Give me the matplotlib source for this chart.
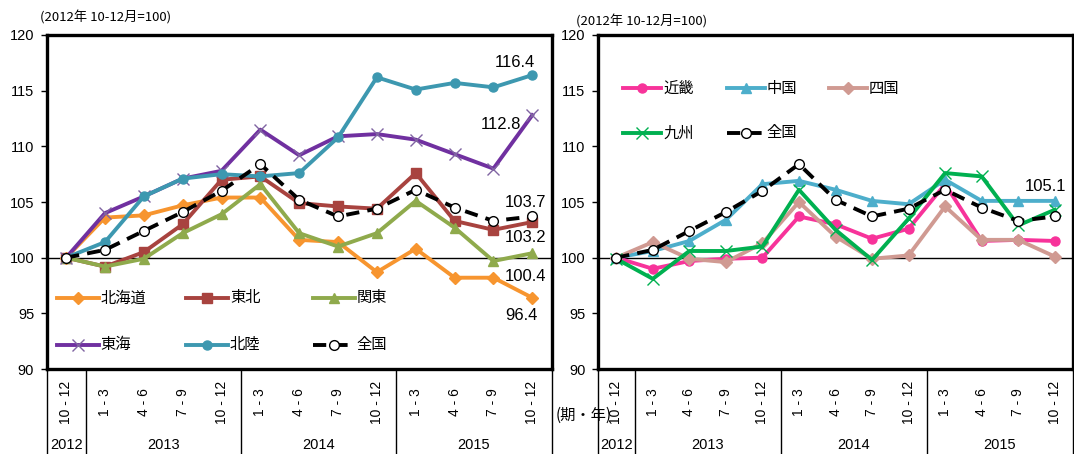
import matplotlib
matplotlib.use("Agg")
import matplotlib.pyplot as plt

NUM_FONT = ["Liberation Sans Narrow", "Liberation Sans", "DejaVu Sans"]
TICK_FONT = ["Liberation Sans", "DejaVu Sans"]
JP_FONT = ["Liberation Sans Narrow", "Noto Sans CJK JP", "DejaVu Sans"]
plt.rcParams["font.family"] = JP_FONT

# quarters, 2012 10-12 .. 2015 10-12
periods = ["10 - 12", "1 - 3", "4 - 6", "7 - 9", "10 - 12",
           "1 - 3", "4 - 6", "7 - 9", "10 - 12",
           "1 - 3", "4 - 6", "7 - 9", "10 - 12"]
years = ["2012", "2013", "2014", "2015"]
year_centers = [0, 2.5, 6.5, 10.5]
year_breaks = [0.5, 4.5, 8.5]

# index, 2012 10-12 = 100
hokkaido = [100, 103.6, 103.8, 104.7, 105.4, 105.4, 101.6, 101.4, 98.7, 100.8, 98.2, 98.2, 96.4]
tohoku   = [100, 99.2, 100.5, 103.0, 107.0, 107.3, 104.9, 104.6, 104.4, 107.6, 103.3, 102.5, 103.2]
kanto    = [100, 99.2, 99.9, 102.2, 103.9, 106.6, 102.2, 101.0, 102.2, 105.1, 102.7, 99.7, 100.4]
tokai    = [100, 104.0, 105.5, 107.1, 107.8, 111.5, 109.2, 110.9, 111.1, 110.6, 109.3, 108.0, 112.8]
hokuriku = [100, 101.4, 105.5, 107.1, 107.5, 107.3, 107.6, 110.8, 116.2, 115.1, 115.7, 115.3, 116.4]
zenkoku  = [100, 100.7, 102.4, 104.1, 106.0, 108.4, 105.2, 103.7, 104.4, 106.1, 104.5, 103.3, 103.7]

kinki    = [100, 99.0, 99.7, 99.9, 100.0, 103.7, 103.0, 101.7, 102.6, 106.6, 101.5, 101.6, 101.5]
chugoku  = [100, 100.6, 101.5, 103.4, 106.6, 106.9, 106.1, 105.1, 104.8, 107.0, 105.1, 105.1, 105.1]
shikoku  = [100, 101.4, 99.9, 99.6, 101.3, 105.0, 101.9, 99.9, 100.2, 104.6, 101.6, 101.6, 100.1]
kyushu   = [99.9, 98.1, 100.6, 100.6, 101.0, 106.1, 102.5, 99.8, 103.5, 107.6, 107.3, 102.9, 104.3]

x = list(range(len(periods)))

LW = 2.8
styles = {
    "北海道": dict(color="#F7952F", marker="D", ms=6, mfc="#F7952F", mec="#F7952F"),
    "東北": dict(color="#A8433F", marker="s", ms=6.5, mfc="#A8433F", mec="#A8433F"),
    "関東": dict(color="#8FAA4C", marker="^", ms=7.5, mfc="#8FAA4C", mec="#8FAA4C"),
    "東海": dict(color="#7030A0", marker="x", ms=8, mec="#8064A2", mew=1.0),
    "北陸": dict(color="#3D98B0", marker="o", ms=6.5, mfc="#3D98B0", mec="#3D98B0"),
    "近畿": dict(color="#F7339A", marker="o", ms=6.5, mfc="#F7339A", mec="#F7339A"),
    "中国": dict(color="#4DAECB", marker="^", ms=7.5, mfc="#4DAECB", mec="#4DAECB"),
    "四国": dict(color="#D09A92", marker="D", ms=6, mfc="#D09A92", mec="#D09A92"),
    "九州": dict(color="#00B050", marker="x", ms=8, mec="#00B050", mew=1.0),
    "全国": dict(color="black", marker="o", ms=7, mfc="white", mec="black",
               mew=1.0, dashes=(3.4, 2.1)),
}


def setup_axes(ax):
    ax.set_xlim(-0.5, 12.5)
    ax.set_ylim(90, 120)
    ax.set_yticks(range(90, 121, 5))
    ax.tick_params(axis="y", length=4, width=1, pad=5, labelsize=10.5)
    for lab in ax.get_yticklabels():
        lab.set_fontfamily(NUM_FONT)
    ax.set_xticks([])
    for sp in ax.spines.values():
        sp.set_linewidth(2.4)
    ax.axhline(100, color="black", lw=1.0, zorder=1)

    # period / year table under the axis
    tr = ax.get_xaxis_transform()
    for i, p in enumerate(periods):
        ax.text(i, -0.099, p, transform=tr, rotation=90, ha="center", va="center",
                fontsize=10, fontfamily=TICK_FONT)
    for xc, yr in zip(year_centers, years):
        ax.text(xc, -0.228, yr, transform=tr, ha="center", va="center",
                fontsize=10.5, fontfamily=NUM_FONT)
    for xb in [-0.5] + year_breaks + [12.5]:
        ax.plot([xb, xb], [0, -0.26], transform=tr, color="black", lw=1.0,
                clip_on=False)


def draw(ax, name, values):
    st = styles[name]
    ax.plot(x, values, lw=LW, label=name, zorder=3, **st)


def legend_entry(ax, x0, y0, length, name):
    st = styles[name]
    ax.plot([x0, x0 + length / 2, x0 + length], [y0] * 3, transform=ax.transAxes,
            lw=LW, markevery=[1], clip_on=False, zorder=5, **st)
    ax.text(x0 + length + 0.004, y0, name, transform=ax.transAxes, ha="left",
            va="center", fontsize=11, fontfamily=["Noto Sans CJK JP", "DejaVu Sans"])


def value_label(ax, i, v, dx, dy):
    ax.annotate(f"{v:.1f}", (i, v), xytext=(dx, dy), textcoords="offset pixels",
                ha="center", va="center", fontsize=12, fontfamily=NUM_FONT)


fig = plt.figure(figsize=(10.74, 4.54), dpi=100)
ax1 = fig.add_axes([46.7 / 1074, 85 / 454, 505 / 1074, 334 / 454])
ax2 = fig.add_axes([598 / 1074, 85 / 454, 475 / 1074, 334 / 454])

setup_axes(ax1)
setup_axes(ax2)

for name, vals in [("北海道", hokkaido), ("東北", tohoku), ("関東", kanto),
                   ("東海", tokai), ("北陸", hokuriku), ("全国", zenkoku)]:
    draw(ax1, name, vals)

for name, vals in [("近畿", kinki), ("中国", chugoku), ("四国", shikoku),
                   ("九州", kyushu), ("全国", zenkoku)]:
    draw(ax2, name, vals)

# legends laid out in rows of three
for (col, row), name in zip([(0, 0), (1, 0), (2, 0), (0, 1), (1, 1), (2, 1)],
                            ["北海道", "東北", "関東", "東海", "北陸", "全国"]):
    legend_entry(ax1, [0.02, 0.276, 0.527][col], [0.213, 0.072][row], 0.083, name)

for (col, row), name in zip([(0, 0), (1, 0), (2, 0), (0, 1), (1, 1)],
                            ["近畿", "中国", "四国", "九州", "全国"]):
    legend_entry(ax2, [0.053, 0.271, 0.486][col], [0.841, 0.707][row], 0.08, name)

last = len(periods) - 1
value_label(ax1, last, hokuriku[last], -17, 13)
value_label(ax1, last, tokai[last], -31, -9)
value_label(ax1, last, zenkoku[last], -7, 14)
value_label(ax1, last, tohoku[last], -7, -15)
value_label(ax1, last, kanto[last], -7, -23)
value_label(ax1, last, hokkaido[last], -11, -18)
value_label(ax2, last, chugoku[last], -9, 14)

fig.text(40 / 1074, 1 - 17 / 454, "(2012年 10-12月=100)", ha="left", va="center",
         fontsize=9.5)
fig.text(576 / 1074, 1 - 22 / 454, "(2012年 10-12月=100)", ha="left", va="center",
         fontsize=9.5)
fig.text(584 / 1074, 1 - 415 / 454, "(期・年)", ha="center", va="center",
         fontsize=11)

fig.savefig("out.png", dpi=100)
